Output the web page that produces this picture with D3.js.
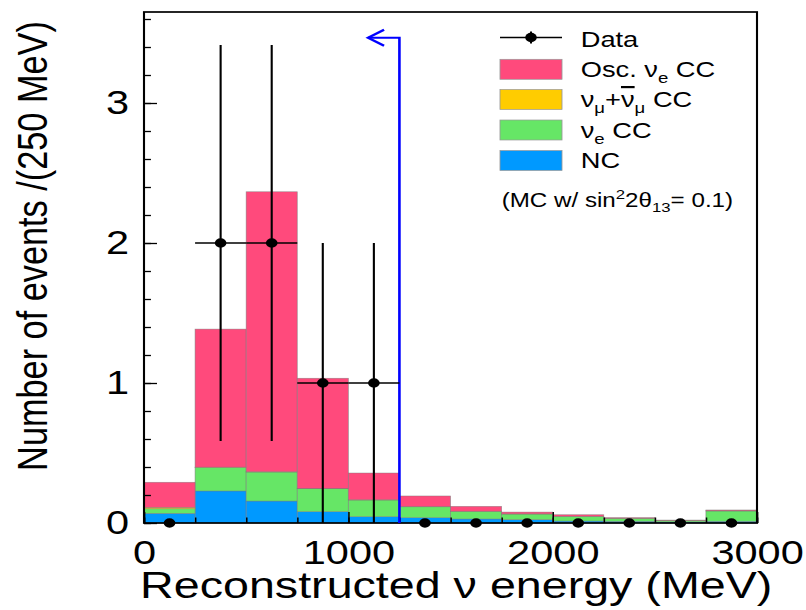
<!DOCTYPE html>
<html><head><meta charset="utf-8">
<script src="https://cdn.jsdelivr.net/npm/d3@7/dist/d3.min.js"></script>
<style>body{margin:0;background:#fff}svg{display:block}text{font-family:"Liberation Sans",Arial,Helvetica,sans-serif}</style>
</head><body>
<script>
// ---- data ----
const binStart = [0,250,500,750,1000,1250,1500,1750,2000,2250,2500,2750];
const binWidth = 250;
const ncVals    = [0.069,0.229,0.157,0.081,0.045,0.038,0.029,0.024,0.014,0.012,0.008,0.012];
const nueCCVals = [0.033,0.168,0.207,0.164,0.119,0.078,0.054,0.040,0.033,0.021,0.010,0.074];
const numuCCVals= [0.010,0.002,0.002,0.002,0.002,0.001,0.001,0.001,0.001,0.001,0.001,0.001];
const oscVals   = [0.179,0.986,2.000,0.787,0.191,0.076,0.035,0.013,0.011,0.004,0.002,0.006];
const dataVals  = [0,2,2,1,1,0,0,0,0,0,0,0];
const dataErr   = [0,1.414,1.414,1,1,0,0,0,0,0,0,0];
const cutEnergy = 1250, cutArrowTip = 1096, cutArrowTop = 3.466;
const xMajor = [0,1000,2000,3000];
const yMajor = [0,1,2,3];
const seriesNames = ["NC","νe CC","νμ CC","Osc. νe CC"];
const seriesColors = ["#0099ff","#66e666","#ffcc00","#ff4a7c"];

const S = 1.24; // horizontal stretch of the picture
const W = 806, H = 610;
const svg = d3.select("body").append("svg").attr("width",W).attr("height",H);
svg.append("rect").attr("width",W).attr("height",H).attr("fill","#fff");
const g = svg.append("g").attr("transform",`scale(${S},1)`);

const x = d3.scaleLinear().domain([0,3000]).range([144/S, 757/S]);
const y = d3.scaleLinear().domain([0,3.65]).range([523,12]);

// stacked histogram
const layers = [ncVals,nueCCVals,numuCCVals,oscVals];
const stackData = binStart.map((s,i)=>({s, v:layers.map(l=>l[i])}));
const stack = d3.stack().keys([0,1,2,3]).value((d,k)=>d.v[k]);
const series = stack(stackData);
series.forEach((ser,k)=>{
  g.append("g").selectAll("rect").data(ser).join("rect")
    .attr("x",d=>x(d.data.s)).attr("width",d=>x(d.data.s+binWidth)-x(d.data.s))
    .attr("y",d=>y(d[1])).attr("height",d=>Math.max(0,y(d[0])-y(d[1])))
    .attr("fill",seriesColors[k]).attr("stroke","#7a7a7a").attr("stroke-width",0.6).attr("stroke-opacity",0.7);
});

// axes
const fs = 33.5;
const yMinor = d3.range(0,3.65,0.2);
g.append("g").attr("transform",`translate(${x(0)},0)`)
  .call(d3.axisLeft(y).tickValues(yMinor).tickSize(-5.6).tickFormat(""))
  .call(a=>a.select(".domain").remove())
  .call(a=>a.selectAll("line").attr("stroke","#000").attr("stroke-width",1.3));
g.append("g").attr("transform",`translate(${x(0)},0)`)
  .call(d3.axisLeft(y).tickValues(yMajor).tickSize(-10.5).tickPadding(12).tickFormat(d3.format("d")))
  .call(a=>a.select(".domain").remove())
  .call(a=>a.selectAll("line").attr("stroke","#000").attr("stroke-width",1.3))
  .call(a=>a.selectAll("text").attr("font-size",fs).attr("fill","#000").attr("font-family",null));
const xMinor = d3.range(0,3001,250);
g.append("g").attr("transform",`translate(0,${y(0)})`)
  .call(d3.axisBottom(x).tickValues(xMinor).tickSize(-5.5).tickFormat(""))
  .call(a=>a.select(".domain").remove())
  .call(a=>a.selectAll("line").attr("stroke","#000").attr("stroke-width",1.2));
g.append("g").attr("transform",`translate(0,${y(0)})`)
  .call(d3.axisBottom(x).tickValues(xMajor).tickSize(-11).tickPadding(17).tickFormat(d3.format("d")))
  .call(a=>a.select(".domain").remove())
  .call(a=>a.selectAll("line").attr("stroke","#000").attr("stroke-width",1.2))
  .call(a=>a.selectAll("text").attr("font-size",fs).attr("fill","#000").attr("font-family",null));

// frame
g.append("rect").attr("x",x(0)).attr("y",y(3.65)).attr("width",x(3000)-x(0)).attr("height",y(0)-y(3.65))
  .attr("fill","none").attr("stroke","#000").attr("stroke-width",1.7);

// cut arrow
const ax = x(cutEnergy), at = y(cutArrowTop), tip = x(cutArrowTip);
g.append("path").attr("d",`M${ax},${y(0)}V${at}H${tip}`).attr("fill","none").attr("stroke","#0000ff").attr("stroke-width",2.1);
g.append("path").attr("d",`M${tip+13},${at-8}L${tip},${at}L${tip+13},${at+8}`).attr("fill","none").attr("stroke","#0000ff").attr("stroke-width",2.1);

// data
const pts = binStart.map((s,i)=>({c:s+binWidth/2, v:dataVals[i], e:dataErr[i]}));
const eg = g.append("g").attr("stroke","#000").attr("stroke-width",1.7);
pts.filter(d=>d.e>0).forEach(d=>{
  eg.append("line").attr("x1",x(d.c)).attr("x2",x(d.c)).attr("y1",y(Math.max(0,d.v-d.e))).attr("y2",y(d.v+d.e));
  eg.append("line").attr("x1",x(d.c-binWidth/2)).attr("x2",x(d.c+binWidth/2)).attr("y1",y(d.v)).attr("y2",y(d.v));
});
g.append("g").selectAll("circle").data(pts).join("circle")
  .attr("cx",d=>x(d.c)).attr("cy",d=>y(d.v)).attr("r",4.7).attr("fill","#000");

// axis titles
g.append("text").attr("x",113).attr("y",598).attr("font-size",37.6).attr("fill","#000")
  .text("Reconstructed ν energy (MeV)");
g.append("text").attr("transform",`translate(${47/S},246) rotate(-90)`).attr("text-anchor","middle")
  .attr("font-size",34.3).attr("fill","#000").text("Number of events /(250 MeV)");

// legend
const lx0 = 500/S, lx1 = 562/S, tx = 580.7/S, lfs = 22;
const lg = g.append("g");
const ly = 37.5, lmid = (lx0+lx1)/2;
lg.append("line").attr("x1",lx0).attr("x2",lx1).attr("y1",ly).attr("y2",ly).attr("stroke","#000").attr("stroke-width",1.7);
lg.append("line").attr("x1",lmid).attr("x2",lmid).attr("y1",ly-6).attr("y2",ly+6).attr("stroke","#000").attr("stroke-width",1.7);
lg.append("circle").attr("cx",lmid).attr("cy",ly).attr("r",4.7).attr("fill","#000");
lg.append("text").attr("x",tx).attr("y",46.7).attr("font-size",lfs).text("Data");

const boxTops = [59.3,89.5,120,150.5];
const legOrder = [3,2,1,0];
legOrder.forEach((k,i)=>{
  lg.append("rect").attr("x",lx0).attr("y",boxTops[i]).attr("width",lx1-lx0).attr("height",20)
    .attr("fill",seriesColors[k]).attr("stroke","#999").attr("stroke-width",0.7);
});
function sub(t, parts){
  parts.forEach(p=>{
    const ts = t.append("tspan").text(p.t);
    if(p.dy) ts.attr("dy",p.dy);
    if(p.fs) ts.attr("font-size",p.fs);
    if(p.over) ts.style("text-decoration","overline");
  });
}
let t;
t = lg.append("text").attr("x",tx).attr("y",76.7).attr("font-size",lfs);
sub(t,[{t:"Osc. ν"},{t:"e",dy:6,fs:15},{t:" CC",dy:-6}]);
t = lg.append("text").attr("x",tx).attr("y",107.3).attr("font-size",lfs);
sub(t,[{t:"ν"},{t:"μ",dy:6,fs:15},{t:"+",dy:-6},{t:"ν",over:true},{t:"μ",dy:6,fs:15},{t:" CC",dy:-6}]);
t = lg.append("text").attr("x",tx).attr("y",138.3).attr("font-size",lfs);
sub(t,[{t:"ν"},{t:"e",dy:6,fs:15},{t:" CC",dy:-6}]);
lg.append("text").attr("x",tx).attr("y",168.3).attr("font-size",lfs).text("NC");
t = lg.append("text").attr("x",501.7/S).attr("y",206.7).attr("font-size",19.5);
sub(t,[{t:"(MC w/ sin"},{t:"2",dy:-8,fs:13.5},{t:"2θ",dy:8},{t:"13",dy:5,fs:13.5},{t:"= 0.1)",dy:-5}]);
</script>
</body></html>
